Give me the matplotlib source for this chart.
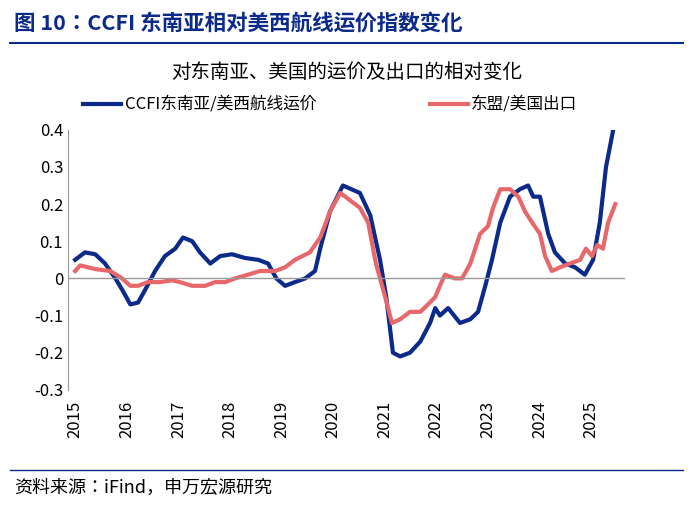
import matplotlib
matplotlib.use("Agg")
import matplotlib.pyplot as plt
from matplotlib.lines import Line2D
from matplotlib import font_manager as fm

cjk = [f.name for f in fm.fontManager.ttflist if "CJK" in f.name]
pref = [n for n in ["Noto Sans CJK SC", "Noto Sans CJK JP", "Noto Sans CJK TC", "Noto Sans CJK KR"] if n in cjk] + cjk
plt.rcParams["font.family"] = "sans-serif"
plt.rcParams["font.sans-serif"] = pref[:1] + ["DejaVu Sans"]

years_blue = [2015.0,2015.19,2015.39,2015.58,2015.78,2015.91,2016.07,2016.22,2016.36,2016.55,2016.74,2016.94,2017.09,2017.27,2017.42,2017.62,2017.81,2018.04,2018.29,2018.55,2018.74,2018.9,2019.07,2019.26,2019.46,2019.65,2019.75,2019.94,2020.19,2020.52,2020.72,2020.91,2021.03,2021.16,2021.3,2021.49,2021.69,2021.88,2021.98,2022.07,2022.23,2022.46,2022.66,2022.81,2022.95,2023.08,2023.24,2023.43,2023.62,2023.78,2023.88,2024.01,2024.17,2024.3,2024.5,2024.69,2024.88,2025.04,2025.17,2025.29,2025.43]
ccfi = [0.05,0.07,0.065,0.04,0.0,-0.03,-0.07,-0.065,-0.03,0.02,0.06,0.08,0.11,0.10,0.07,0.04,0.06,0.065,0.055,0.05,0.04,0.0,-0.02,-0.01,0.0,0.02,0.08,0.18,0.25,0.23,0.17,0.05,-0.05,-0.2,-0.21,-0.2,-0.17,-0.12,-0.08,-0.1,-0.08,-0.12,-0.11,-0.09,-0.02,0.05,0.15,0.22,0.24,0.25,0.22,0.22,0.12,0.07,0.04,0.03,0.01,0.05,0.15,0.3,0.4]

years_red = [2015.0,2015.1,2015.39,2015.68,2015.91,2016.07,2016.22,2016.41,2016.65,2016.88,2017.03,2017.27,2017.52,2017.71,2017.91,2018.1,2018.35,2018.59,2018.88,2019.07,2019.26,2019.55,2019.75,2019.94,2020.14,2020.33,2020.52,2020.68,2020.83,2021.01,2021.14,2021.3,2021.49,2021.69,2021.84,2021.98,2022.07,2022.17,2022.36,2022.5,2022.66,2022.85,2023.0,2023.1,2023.24,2023.43,2023.59,2023.72,2023.86,2024.01,2024.11,2024.24,2024.4,2024.59,2024.79,2024.9,2025.02,2025.12,2025.23,2025.33,2025.47]
export = [0.02,0.035,0.025,0.02,0.0,-0.02,-0.02,-0.01,-0.01,-0.005,-0.01,-0.02,-0.02,-0.01,-0.01,0.0,0.01,0.02,0.02,0.03,0.05,0.07,0.11,0.18,0.23,0.21,0.19,0.15,0.04,-0.05,-0.12,-0.11,-0.09,-0.09,-0.07,-0.05,-0.02,0.01,0.0,0.0,0.04,0.12,0.14,0.19,0.24,0.24,0.22,0.18,0.15,0.12,0.06,0.02,0.03,0.04,0.05,0.08,0.06,0.09,0.08,0.15,0.2]

tick_years = list(range(2015, 2026))
yticks = [-0.3,-0.2,-0.1,0,0.1,0.2,0.3,0.4]

fig = plt.figure(figsize=(6.93, 5.05), dpi=100)
ax = fig.add_axes([0.098, 0.228, 0.804, 0.515])
blue = "#0b2a8a"; red = "#e8676a"
ax.plot(years_blue, ccfi, color=blue, lw=3)
ax.plot(years_red, export, color=red, lw=3)
ax.set_xlim(2014.86, 2025.66)
ax.set_ylim(-0.3, 0.4)
ax.set_yticks(yticks)
ax.set_yticklabels(["-0.3","-0.2","-0.1","0","0.1","0.2","0.3","0.4"], fontsize=12)
ax.set_xticks(tick_years)
ax.set_xticklabels([str(y) for y in tick_years], rotation=90, fontsize=12)
for s in ["top","right","bottom"]:
    ax.spines[s].set_visible(False)
ax.spines["left"].set_color("#999999")
ax.axhline(0, color="#999999", lw=1)
ax.tick_params(axis="x", length=0, pad=8)
ax.tick_params(axis="y", length=0)

fig.text(0.02, 0.955, "图 10：CCFI 东南亚相对美西航线运价指数变化", fontsize=15.5, fontweight="bold", color="#0b2a8a", va="center")
fig.add_artist(Line2D([0.015, 0.985], [0.915, 0.915], color="#0b2a8a", lw=1.5))
fig.text(0.5, 0.857, "对东南亚、美国的运价及出口的相对变化", fontsize=14, ha="center", va="center")
fig.add_artist(Line2D([0.12, 0.175], [0.795, 0.795], color=blue, lw=3))
fig.text(0.18, 0.795, "CCFI东南亚/美西航线运价", fontsize=12, va="center")
fig.add_artist(Line2D([0.62, 0.675], [0.795, 0.795], color=red, lw=3))
fig.text(0.68, 0.795, "东盟/美国出口", fontsize=12, va="center")
fig.add_artist(Line2D([0.015, 0.985], [0.07, 0.07], color="#0b2a8a", lw=1))
fig.text(0.02, 0.035, "资料来源：iFind，申万宏源研究", fontsize=13, va="center")
fig.savefig("out.png", dpi=100)
